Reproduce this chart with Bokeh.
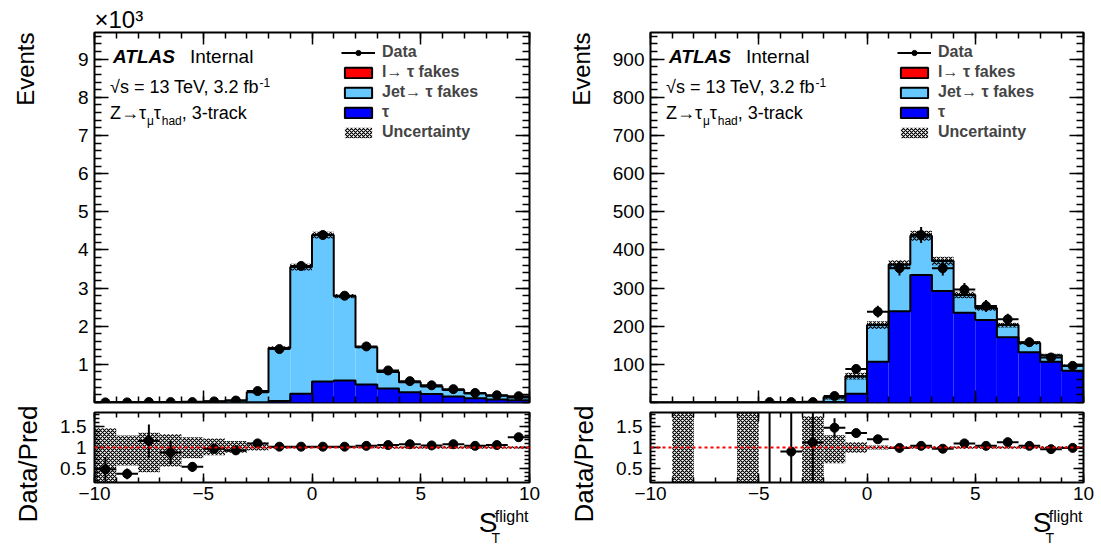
import math
import numpy as np
from bokeh.plotting import figure
from bokeh.models import Range1d, FixedTicker, LinearAxis, Label, Span, Legend, LegendItem, Title, Spacer
from bokeh.layouts import row, column
from bokeh.embed import file_html
from bokeh.resources import INLINE

FONT = "Liberation Sans"

# ---------------- data ----------------
bin_edges = list(range(-10, 11))
x_tick_labels = {-10: "\u221210", -5: "\u22125", 0: "0", 5: "5", 10: "10"}

# Left panel (events)
tau_L = [0, 0, 0, 0, 0, 0, 0, 5, 40, 230, 550, 580, 470, 370, 270, 220, 160, 110, 80, 60]
jet_L = [6, 8, 10, 12, 18, 30, 55, 265, 1390, 3320, 3840, 2210, 980, 430, 260, 200, 170, 125, 100, 70]
lfake_L = [0, 0, 0, 0, 0, 0, 0, 0, 0, 0, 0, 0, 0, 0, 0, 0, 0, 0, 0, 0]
data_L = [3, 3, 12, 11, 10, 29, 51, 300, 1400, 3580, 4390, 2800, 1470, 840, 560, 450, 350, 250, 190, 165]
ratio_L = [0.47, 0.36, 1.16, 0.88, 0.53, 0.97, 0.93, 1.10, 1.02, 1.02,
           1.02, 1.02, 1.04, 1.06, 1.08, 1.05, 1.08, 1.04, 1.06, 1.25]
ratio_err_L = [0.30, 0.13, 0.40, 0.28, 0.12, 0.10, 0.05, 0.03, 0.01, 0.01,
               0.01, 0.01, 0.01, 0.02, 0.02, 0.02, 0.02, 0.03, 0.03, 0.04]
band_up_L = [1.47, 1.29, 1.36, 1.32, 1.25, 1.22, 1.16, 1.12, 1.03, 1.025,
             1.02, 1.02, 1.02, 1.03, 1.03, 1.03, 1.03, 1.03, 1.03, 1.03]
band_dn_L = [0.0, 0.56, 0.40, 0.54, 0.74, 0.81, 0.875, 0.93, 0.97, 0.975,
             0.98, 0.98, 0.98, 0.97, 0.97, 0.97, 0.97, 0.97, 0.97, 0.97]
yticks_L = [1000, 2000, 3000, 4000, 5000, 6000, 7000, 8000, 9000]
ylabels_L = ["1", "2", "3", "4", "5", "6", "7", "8", "9"]

# Right panel (events)
nan = float("nan")
tau_R = [0, 0, 0, 0, 0, 0, 0, 0, 1, 23, 107, 239, 334, 292, 235, 216, 171, 132, 107, 83]
jet_R = [0, 0.3, 0, 0, 0.3, 0, 0, 2, 12, 46, 96, 123, 103, 79, 47, 32, 32, 24, 17, 14]
lfake_R = [0, 0, 0, 0, 0, 0, 0, 0, 0, 0, 0, 0, 0, 0, 0, 0, 0, 0, 0, 0]
data_R = [0, 0, 0, 0, 0, 1, 1, 1, 17, 88, 238, 352, 439, 352, 296, 253, 218, 158, 118, 96]
ratio_R = [nan, nan, nan, nan, nan, 5.0, 0.90, 1.12, 1.48, 1.35,
           1.20, 0.99, 1.04, 0.97, 1.10, 1.04, 1.13, 1.04, 0.96, 0.99]
ratio_err_R = [0, 0, 0, 0, 0, 5.0, 1.0, 1.1, 0.23, 0.09,
               0.06, 0.05, 0.05, 0.05, 0.06, 0.06, 0.07, 0.08, 0.09, 0.10]
band_up_R = [nan, 3.0, nan, nan, 3.0, nan, nan, 1.76, 1.30, 1.13,
             1.05, 1.03, 1.03, 1.03, 1.03, 1.03, 1.03, 1.03, 1.03, 1.03]
band_dn_R = [nan, 0.0, nan, nan, 0.0, nan, nan, 0.0, 0.62, 0.87,
             0.95, 0.97, 0.97, 0.97, 0.97, 0.97, 0.97, 0.97, 0.97, 0.97]
yticks_R = [100, 200, 300, 400, 500, 600, 700, 800, 900]
ylabels_R = ["100", "200", "300", "400", "500", "600", "700", "800", "900"]

ratio_ticks = [0.5, 1.0, 1.5]
ratio_labels = ["0.5", "1", "1.5"]

legend_labels = ["Data", "l\u2192 \u03c4 fakes", "Jet\u2192 \u03c4 fakes", "\u03c4", "Uncertainty"]

COL_TAU = "#0000ff"
COL_JET = "#66c8ff"
COL_LFK = "#ff0000"

# ---------------- helpers ----------------
W = {' ': 278, '=': 584, '1': 556, '3': 556, '2': 556, '.': 278, ',': 278, 'T': 611, 'e': 556,
     'V': 667, 'f': 278, 'b': 556, '\u221a': 549, 's': 500, 'Z': 611, '\u2192': 1000,
     '\u03c4': 440, '\u03bc': 576, 'h': 556, 'a': 556, 'd': 556, '-': 333, 't': 278,
     'r': 333, 'c': 500, 'k': 500, '\u00d7': 584, '0': 556}


def tw(s, size):
    return sum(W.get(ch, 556) for ch in s) * size / 1000.0


def add_label(p, text, x, y, dx, dy, size, style="normal", align="left",
              baseline="middle", angle=0.0):
    p.add_layout(Label(x=x, y=y, x_units="data", y_units="data", x_offset=dx, y_offset=dy,
                       text=text, text_font=FONT, text_font_size=f"{size}px",
                       text_font_style=style, text_align=align, text_baseline=baseline,
                       angle=angle, text_color="black"))


def style_axis(ax, tick_in, minor_in, labels=True, size=19, standoff=6):
    ax.major_tick_in = tick_in
    ax.major_tick_out = 0
    ax.minor_tick_in = minor_in
    ax.minor_tick_out = 0
    ax.axis_line_color = None
    ax.major_tick_line_color = "black"
    ax.minor_tick_line_color = "black"
    ax.major_tick_line_width = 1.5
    ax.minor_tick_line_width = 1.5
    if labels:
        ax.major_label_text_font = FONT
        ax.major_label_text_font_size = f"{size}px"
        ax.major_label_text_color = "black"
        ax.major_label_standoff = standoff
    else:
        ax.major_label_text_font_size = "0px"
        ax.major_label_standoff = 0


edges = np.array(bin_edges, dtype=float)
lo = edges[:-1]
hi = edges[1:]
ctr = 0.5 * (lo + hi)


def step_xy(vals):
    xs = np.concatenate([[edges[0]], np.repeat(edges, 2)[1:-1], [edges[-1]]])
    ys = np.concatenate([[0.0], np.repeat(np.asarray(vals, float), 2), [0.0]])
    return xs, ys


def x_ticker():
    return FixedTicker(ticks=sorted(x_tick_labels.keys()), minor_ticks=bin_edges)


def text_strip(x0, y0, w, h):
    """A blank figure whose frame spans its whole canvas; coordinates = page pixels."""
    s = figure(width=w, height=h, x_range=Range1d(x0, x0 + w), y_range=Range1d(y0 + h, y0),
               min_border_left=0, min_border_right=0, min_border_top=0, min_border_bottom=0,
               x_axis_location=None, y_axis_location=None, output_backend="svg",
               toolbar_location=None, background_fill_color="white", border_fill_color="white")
    s.outline_line_color = None
    s.xgrid.visible = False
    s.ygrid.visible = False
    return s


def strip_label(s, text, x, y, size, align="left", angle=0.0, style="normal", baseline="middle"):
    s.add_layout(Label(x=x, y=y, text=text, text_font=FONT, text_font_size=f"{size}px",
                       text_font_style=style, text_align=align, text_baseline=baseline,
                       angle=angle, text_color="black"))


def hatch_kw():
    return dict(fill_color=None, fill_alpha=0, line_color=None, hatch_pattern="diagonal_cross",
                hatch_color="black", hatch_scale=4, hatch_weight=1.2, hatch_alpha=1.0)


def main_panel(tau, jet, lfk, data, bup, bdn, ymax, yticks, ylabels, bl, br, fw, x10):
    tau = np.asarray(tau, float)
    jet = np.asarray(jet, float)
    lfk = np.asarray(lfk, float)
    data = np.asarray(data, float)
    s1 = tau
    s2 = tau + jet
    tot = s2 + lfk
    p = figure(x_range=Range1d(-10, 10), y_range=Range1d(0, ymax),
               frame_width=fw, frame_height=370,
               min_border_left=bl, min_border_right=br, min_border_top=32, min_border_bottom=2,
               output_backend="svg", toolbar_location=None,
               background_fill_color="white", border_fill_color="white")
    p.xgrid.visible = False
    p.ygrid.visible = False
    p.outline_line_color = "black"
    p.outline_line_width = 2

    step = yticks[1] - yticks[0]
    yt = FixedTicker(ticks=yticks, minor_ticks=list(np.arange(0, ymax + 1e-6, step / 5.0)))
    p.xaxis.ticker = x_ticker()
    p.yaxis.ticker = yt
    p.yaxis.major_label_overrides = {t: l for t, l in zip(yticks, ylabels)}
    style_axis(p.xaxis[0], 12, 6, labels=False)
    style_axis(p.yaxis[0], 14, 7, labels=True, standoff=6)
    ax_top = LinearAxis(ticker=x_ticker())
    style_axis(ax_top, 12, 6, labels=False)
    p.add_layout(ax_top, "above")
    ax_r = LinearAxis(ticker=yt)
    style_axis(ax_r, 14, 7, labels=False)
    p.add_layout(ax_r, "right")

    # stack
    p.quad(left=lo, right=hi, bottom=np.zeros_like(s1), top=s1, fill_color=COL_TAU, line_color=None)
    p.quad(left=lo, right=hi, bottom=s1, top=s2, fill_color=COL_JET, line_color=None)
    p.quad(left=lo, right=hi, bottom=s2, top=tot, fill_color=COL_LFK, line_color=None)
    xs, ys = step_xy(s1)
    p.line(xs, ys, line_color="black", line_width=2)
    xs, ys = step_xy(tot)
    p.line(xs, ys, line_color="black", line_width=2)

    # uncertainty band
    bup_a = np.asarray(bup, float)
    bdn_a = np.asarray(bdn, float)
    unc = p.quad(left=lo, right=hi, bottom=tot * bdn_a, top=tot * bup_a, **hatch_kw())

    # data
    m = data > 0
    d = np.where(m, data, np.nan)
    err = np.sqrt(np.where(m, data, 0))
    hseg = p.segment(x0=lo[m], x1=hi[m], y0=d[m], y1=d[m], line_color="black", line_width=2)
    p.segment(x0=ctr[m], x1=ctr[m], y0=(d - err)[m], y1=(d + err)[m], line_color="black", line_width=2)
    sc = p.scatter(ctr[m], d[m], marker="circle", size=9, fill_color="black", line_color="black")

    # legend-only boxes (zero-height, hidden)
    boxes = []
    for col in (COL_LFK, COL_JET, COL_TAU):
        r = p.quad(left=lo[:1], right=hi[:1], bottom=[0.0], top=[0.0], fill_color=col,
                   line_color="black", line_width=2)
        r.visible = False
        boxes.append(r)
    leg = Legend(items=[LegendItem(label=legend_labels[0], renderers=[hseg, sc]),
                        LegendItem(label=legend_labels[1], renderers=[boxes[0]]),
                        LegendItem(label=legend_labels[2], renderers=[boxes[1]]),
                        LegendItem(label=legend_labels[3], renderers=[boxes[2]]),
                        LegendItem(label=legend_labels[4], renderers=[unc])],
                 location=(247, 261), padding=0, margin=0, spacing=2,
                 glyph_width=34, glyph_height=13, label_standoff=7, label_height=14,
                 label_text_font=FONT, label_text_font_size="16px", label_text_font_style="bold",
                 border_line_alpha=0, background_fill_alpha=0)
    p.add_layout(leg)

    # texts inside the frame (vertical centres measured from the frame top)
    add_label(p, "ATLAS", -10, ymax, 18.5, -24, 19, style="bold italic")
    add_label(p, "Internal", -10, ymax, 95.5, -24, 19)
    l2 = "\u221as = 13 TeV, 3.2 fb"
    add_label(p, l2, -10, ymax, 15.5, -54, 18)
    add_label(p, "-1", -10, ymax, 15.5 + tw(l2, 18) - 3, -50, 12)
    dx = 15.5
    for txt, sz, off in [("Z\u2192\u03c4", 18, 0), ("\u03bc", 12, -8), ("\u03c4", 18, 0),
                         ("had", 12, -8), (", 3-track", 18, 0)]:
        add_label(p, txt, -10, ymax, dx, -80 + off, sz)
        dx += tw(txt, sz)
    if x10:
        p.add_layout(Title(text="\u00d710\u00b3", align="left", vertical_align="bottom",
                           standoff=0, offset=0, text_font=FONT, text_font_size="24px",
                           text_font_style="normal", text_color="black"), "above")
    return p


RLO, RHI = 0.15, 1.85


def ratio_panel(ratio, rerr, bup, bdn, bl, br, fw):
    ratio = np.asarray(ratio, float)
    rerr = np.asarray(rerr, float)
    p = figure(x_range=Range1d(-10, 10), y_range=Range1d(RLO, RHI),
               frame_width=fw, frame_height=70,
               min_border_left=bl, min_border_right=br, min_border_top=8, min_border_bottom=26,
               output_backend="svg", toolbar_location=None,
               background_fill_color="white", border_fill_color="white")
    p.xgrid.visible = False
    p.ygrid.visible = False
    p.outline_line_color = "black"
    p.outline_line_width = 2
    yt = FixedTicker(ticks=ratio_ticks, minor_ticks=[round(0.2 + 0.1 * i, 2) for i in range(17)])
    p.xaxis.ticker = x_ticker()
    p.xaxis.major_label_overrides = x_tick_labels
    p.yaxis.ticker = yt
    p.yaxis.major_label_overrides = {t: l for t, l in zip(ratio_ticks, ratio_labels)}
    style_axis(p.xaxis[0], 9, 5, labels=True, standoff=4)
    style_axis(p.yaxis[0], 10, 5, labels=True, standoff=8)
    ax_top = LinearAxis(ticker=x_ticker())
    style_axis(ax_top, 9, 5, labels=False)
    p.add_layout(ax_top, "above")
    ax_r = LinearAxis(ticker=yt)
    style_axis(ax_r, 10, 5, labels=False)
    p.add_layout(ax_r, "right")

    p.quad(left=lo, right=hi, bottom=np.asarray(bdn, float), top=np.asarray(bup, float), **hatch_kw())
    p.add_layout(Span(location=1.0, dimension="width", line_color="#ff0000",
                      line_dash="3 3", line_width=2))
    m = ~np.isnan(ratio)
    p.segment(x0=lo[m], x1=hi[m], y0=ratio[m], y1=ratio[m], line_color="black", line_width=2)
    p.segment(x0=ctr[m], x1=ctr[m], y0=(ratio - rerr)[m], y1=(ratio + rerr)[m],
              line_color="black", line_width=2)
    p.scatter(ctr[m], ratio[m], marker="circle", size=9, fill_color="black", line_color="black")
    return p


def side_strip(x0, frame_left):
    s = text_strip(x0, 0, 50, 544)
    strip_label(s, "Events", frame_left - 69, 32, 24, align="right", angle=math.pi / 2)
    strip_label(s, "Data/Pred", frame_left - 67, 405, 26, align="right", angle=math.pi / 2)
    return s


def xlabel_row(col_x0, col_w, frame_right):
    """Narrow text strip under the right end of the ratio frame (page-pixel coordinates)."""
    sp_w = 400
    x0 = col_x0 + sp_w
    s = text_strip(x0, 508, col_w - sp_w, 36)
    strip_label(s, "S", frame_right - 32, 522, 28, align="right")
    strip_label(s, "T", frame_right - 38, 537, 14)
    strip_label(s, "flight", frame_right - 1, 516, 16, align="right")
    return row(Spacer(width=sp_w, height=36), s)


# left half: x 0..550, right half: x 550..1101
sL = side_strip(0, 94)
mL = main_panel(tau_L, jet_L, lfake_L, data_L, band_up_L, band_dn_L, 9700, yticks_L, ylabels_L,
                44, 21, 435, True)
rL = ratio_panel(ratio_L, ratio_err_L, band_up_L, band_dn_L, 44, 21, 435)
xL = xlabel_row(50, 500, 529)

sR = side_strip(550, 650)
mR = main_panel(tau_R, jet_R, lfake_R, data_R, band_up_R, band_dn_R, 970, yticks_R, ylabels_R,
                50, 18, 433, False)
rR = ratio_panel(ratio_R, ratio_err_R, band_up_R, band_dn_R, 50, 18, 433)
xR = xlabel_row(600, 501, 1083)

p = row(sL, column(mL, rL, xL), sR, column(mR, rR, xR))
open("out.html", "w").write(file_html(p, INLINE))
